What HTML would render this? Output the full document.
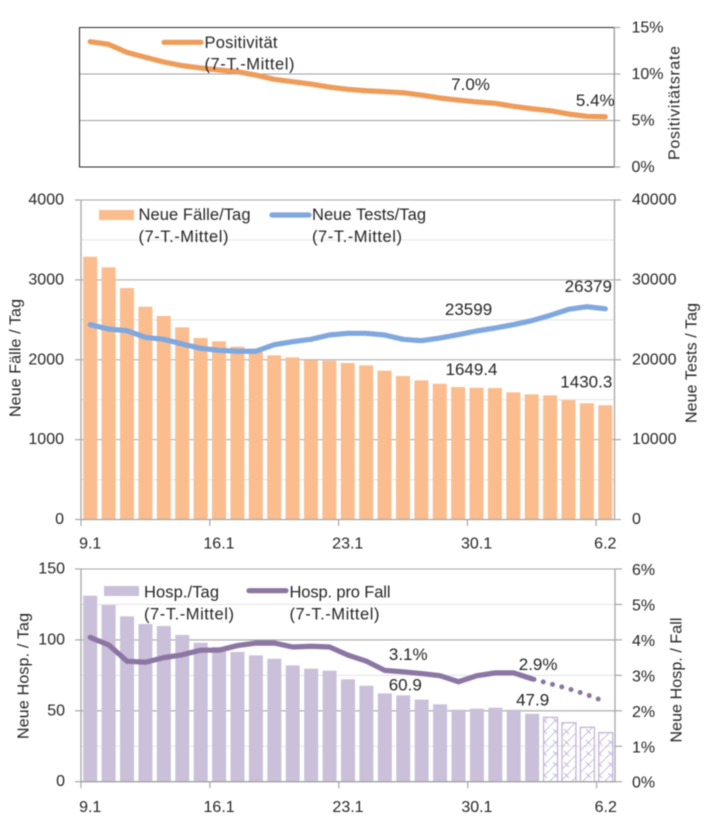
<!DOCTYPE html>
<html lang="de">
<head>
<meta charset="utf-8">
<title>Positivität, Fälle und Hospitalisierungen</title>
<style>
  html, body { margin: 0; padding: 0; background: #fff; }
  svg { display: block; filter: blur(0.45px); }
  text { font-family: "Liberation Sans", sans-serif; font-size: 16px; fill: #262626; }
  .legend { font-size: 16.5px; }
  .value { font-size: 17px; }
</style>
</head>
<body>
<svg id="chart" xmlns="http://www.w3.org/2000/svg" width="709" height="833" viewBox="0 0 709 833">
  <defs>
    <pattern id="hatch" width="11" height="11" patternUnits="userSpaceOnUse">
      <path d="M-1 12 L12 -1 M3 3 L8 8 M-2.5 8.5 L2.5 13.5 M8.5 -2.5 L13.5 2.5" stroke="#c4b6da" stroke-width="0.9" fill="none"/>
    </pattern>
  </defs>

  <g id="panel-1"></g>
  <g id="panel-2"></g>
  <g id="panel-3"></g>

  <g>
    <line x1="164" y1="42.3" x2="201" y2="42.3" stroke="#ee9c58" stroke-width="5.2" stroke-linecap="round"/>
    <text class="legend" x="204.5" y="43" dominant-baseline="central" textLength="73" lengthAdjust="spacing">Positivität</text>
    <text class="legend" x="204.5" y="64.5" dominant-baseline="central" textLength="90" lengthAdjust="spacing">(7-T.-Mittel)</text>
  </g>
  <g>
    <rect x="99" y="210" width="35" height="10" fill="#fbbd8e"/>
    <text class="legend" x="138.5" y="215" dominant-baseline="central" textLength="112" lengthAdjust="spacing">Neue Fälle/Tag</text>
    <text class="legend" x="138.5" y="237" dominant-baseline="central" textLength="90" lengthAdjust="spacing">(7-T.-Mittel)</text>
    <line x1="272" y1="215" x2="309" y2="215" stroke="#7fa8de" stroke-width="5.2" stroke-linecap="round"/>
    <text class="legend" x="312" y="215" dominant-baseline="central" textLength="114" lengthAdjust="spacing">Neue Tests/Tag</text>
    <text class="legend" x="312" y="237" dominant-baseline="central" textLength="90" lengthAdjust="spacing">(7-T.-Mittel)</text>
  </g>
  <g>
    <rect x="104" y="586" width="35" height="10" fill="#cbc0da"/>
    <text class="legend" x="144" y="592.5" dominant-baseline="central" textLength="75" lengthAdjust="spacing">Hosp./Tag</text>
    <text class="legend" x="144" y="614.5" dominant-baseline="central" textLength="90" lengthAdjust="spacing">(7-T.-Mittel)</text>
    <line x1="249" y1="590.7" x2="286" y2="590.7" stroke="#8c76a3" stroke-width="5.2" stroke-linecap="round"/>
    <text class="legend" x="289.5" y="592.5" dominant-baseline="central" textLength="101" lengthAdjust="spacing">Hosp. pro Fall</text>
    <text class="legend" x="289.5" y="614.5" dominant-baseline="central" textLength="90" lengthAdjust="spacing">(7-T.-Mittel)</text>
  </g>

  <text transform="translate(675 103) rotate(-90)" text-anchor="middle" dominant-baseline="central" textLength="114" lengthAdjust="spacing">Positivitätsrate</text>
  <text transform="translate(16 358) rotate(-90)" text-anchor="middle" dominant-baseline="central" textLength="118" lengthAdjust="spacing">Neue Fälle / Tag</text>
  <text transform="translate(692 363) rotate(-90)" text-anchor="middle" dominant-baseline="central" textLength="120" lengthAdjust="spacing">Neue Tests / Tag</text>
  <text transform="translate(24 676) rotate(-90)" text-anchor="middle" dominant-baseline="central" textLength="126" lengthAdjust="spacing">Neue Hosp. / Tag</text>
  <text transform="translate(677 680) rotate(-90)" text-anchor="middle" dominant-baseline="central" textLength="125" lengthAdjust="spacing">Neue Hosp. / Fall</text>
</svg>

<script>
const dayLabels = ["9.1","16.1","23.1","30.1","6.2"];
const dayLabelEvery = 7;
const dayCount = 29;

const positivity = [13.47,13.19,12.33,11.8,11.29,10.9,10.65,10.43,10.25,9.89,9.43,9.17,8.92,8.6,8.35,8.2,8.1,7.99,7.74,7.42,7.2,7.0,6.85,6.53,6.27,6.05,5.7,5.45,5.4];
const cases = [3290,3157,2898,2664,2548,2406,2272,2231,2163,2097,2055,2030,1997,1988,1959,1930,1863,1796,1742,1700,1659,1649.4,1646,1592,1567,1555,1496,1455,1430.3];
const tests = [24390,23850,23640,22810,22560,21970,21430,21180,21060,21060,21890,22260,22560,23100,23310,23310,23100,22560,22390,22720,23140,23599,23970,24390,24890,25560,26310,26640,26379];
const hospitalised = [131.2,124.6,116.6,111.2,109.8,103.5,98,95,91.5,89.1,86.7,82,79.7,78.3,72.2,67.7,62.3,60.9,57.9,54.6,50.8,51.5,52.2,50.8,47.9];
const hospitalisedProjected = [45.4,41.6,38.4,34.6];
const hospRate = [4.07,3.86,3.40,3.37,3.50,3.58,3.71,3.71,3.84,3.91,3.91,3.80,3.82,3.80,3.57,3.40,3.14,3.1,3.05,2.99,2.82,2.99,3.07,3.07,2.9];
const hospRateProjected = [2.9,2.76,2.62,2.45,2.25];

const positivityTicks = [0,5,10,15];
const casesTicks = [0,1000,2000,3000,4000];
const testsTicks = [0,10000,20000,30000,40000];
const hospTicks = [0,50,100,150];
const hospRateTicks = [0,1,2,3,4,5,6];

const NS = "http://www.w3.org/2000/svg";
function make(tag, attrs, parent, txt) {
  const el = document.createElementNS(NS, tag);
  for (const k in attrs) el.setAttribute(k, attrs[k]);
  if (txt !== undefined) el.textContent = txt;
  parent.appendChild(el);
  return el;
}
function linear(d0, d1, r0, r1) { return v => r0 + (v - d0) * (r1 - r0) / (d1 - d0); }
function band(left, right) { const s = (right - left) / dayCount; return i => left + s * (i + 0.5); }
function linePath(values, x, y, start) {
  return values.map((v, i) => (i ? "L" : "M") + x(i + start).toFixed(2) + " " + y(v).toFixed(2)).join(" ");
}

function gridLine(g, x1, x2, y, color) {
  const el = make("line", {x1, x2, y1: y, y2: y, stroke: color, "stroke-width": 1.1}, g);
  
  
}
function tickLine(g, x1, y1, x2, y2) {
  const el = make("line", {x1, y1, x2, y2, stroke: "#a0a0a0", "stroke-width": 1.1}, g);
  
  
}
function tickText(g, x, y, anchor, label) {
  const el = make("text", {x, y: y + 1, "text-anchor": anchor, "dominant-baseline": "central"}, g, label);
  
  
}
function dataLabel(g, x, y, label) {
  const el = make("text", {x, y: y + 0.5, "text-anchor": "middle", "dominant-baseline": "central", class: "value"}, g, label);
  
  
}
function drawBars(g, values, x, y, baseY, fill, stroke) {
  values.forEach((v, i) => {
    const el = make("rect", {x: x(i) - 7, y: y(v), width: 14, height: baseY - y(v), fill}, g);
    if (stroke) { el.setAttribute("stroke", stroke); el.setAttribute("stroke-width", 1.3); }
    
    
  });
}
function drawXAxis(g, x, left, right, baseY, labelY) {
  const step = (right - left) / dayCount;
  dayLabels.forEach((label, k) => {
    const i = k * dayLabelEvery;
    tickLine(g, left + i * step, baseY, left + i * step, baseY + 6.5);
    tickText(g, x(i), labelY, "middle", label);
  });
}

/* Panel 1: positivity */
(function () {
  const g = document.getElementById("panel-1");
  const L = 79.5, R = 614.3, T = 27.5, B = 167;
  const y = linear(0, 15, B, T);
  const x = band(81, 614.5);
  positivityTicks.forEach(t => {
    if (t > 0 && t < 15) gridLine(g, L, R, y(t), "#a0a0a0");
    tickLine(g, R, y(t), R + 6, y(t));
    tickText(g, 631.5, y(t) - 0.5, "start", t + "%");
  });
  const frame = make("path", {d: `M${R} ${T} L${L} ${T} L${L} ${B} L${R} ${B}`, fill: "none", stroke: "#2b2b2b", "stroke-width": 1.1}, g);
  
  
  const rightAxis = make("line", {x1: R, x2: R, y1: T, y2: B, stroke: "#8f8f8f", "stroke-width": 1.2}, g);
  
  
  const line = make("path", {d: linePath(positivity, x, y, 0), fill: "none", stroke: "#ee9c58", "stroke-width": 5.2, "stroke-linecap": "round", "stroke-linejoin": "round"}, g);
  
  
  dataLabel(g, x(21) - 6, y(positivity[21]) - 18, positivity[21].toFixed(1) + "%");
  dataLabel(g, x(28) - 10, y(positivity[28]) - 17, positivity[28].toFixed(1) + "%");
})();

/* Panel 2: cases and tests */
(function () {
  const g = document.getElementById("panel-2");
  const L = 81, R = 614.5, T = 200, B = 519.5;
  const y = linear(0, 4000, B, T);
  const yT = linear(0, 40000, B, T);
  const x = band(L, R);
  casesTicks.forEach((t, k) => {
    if (k < casesTicks.length - 1) gridLine(g, L, R, y(t + 500), "#e6e6e6");
    gridLine(g, L, R, y(t), "#a6a6a6");
    tickLine(g, L - 6, y(t), L, y(t));
    tickText(g, 64, y(t) - 1, "end", String(t));
  });
  testsTicks.forEach(t => {
    tickLine(g, R, yT(t), R + 6.5, yT(t));
    tickText(g, 632, yT(t) - 1, "start", String(t));
  });
  drawBars(g, cases, x, y, B, "#fbbd8e");
  const axes = make("path", {d: `M${L} ${T} L${L} ${B} L${R} ${B} L${R} ${T}`, fill: "none", stroke: "#a6a6a6", "stroke-width": 1.3}, g);
  
  
  drawXAxis(g, x, L, R, B, 543);
  const line = make("path", {d: linePath(tests, x, yT, 0), fill: "none", stroke: "#7fa8de", "stroke-width": 5.2, "stroke-linecap": "round", "stroke-linejoin": "round"}, g);
  
  
  dataLabel(g, x(21) - 8, yT(tests[21]) - 22, String(tests[21]));
  dataLabel(g, x(28) - 17, yT(tests[28]) - 23, String(tests[28]));
  dataLabel(g, x(21) - 5, y(cases[21]) - 19, cases[21].toFixed(1));
  dataLabel(g, x(28) - 19, y(cases[28]) - 24, cases[28].toFixed(1));
})();

/* Panel 3: hospitalisations */
(function () {
  const g = document.getElementById("panel-3");
  const L = 81, R = 615, T = 569, B = 781.7;
  const y = linear(0, 150, B, T);
  const yR = linear(0, 6, B, T);
  const x = band(L, R);
  hospTicks.forEach((t, k) => {
    if (k < hospTicks.length - 1) gridLine(g, L, R, y(t + 25), "#e6e6e6");
    gridLine(g, L, R, y(t), "#a6a6a6");
    tickLine(g, L - 6, y(t), L, y(t));
    tickText(g, 65, y(t) - 1, "end", String(t));
  });
  hospRateTicks.forEach(t => {
    tickLine(g, R, yR(t), R + 7, yR(t));
    tickText(g, 632, yR(t) + 0.5, "start", t + "%");
  });
  drawBars(g, hospitalised, x, y, B, "#cbc0da");
  const xP = i => x(i + hospitalised.length);
  drawBars(g, hospitalisedProjected, xP, y, B, "url(#hatch)", "#c4b6da");
  const axes = make("path", {d: `M${L} ${T} L${L} ${B} L${R} ${B} L${R} ${T}`, fill: "none", stroke: "#a6a6a6", "stroke-width": 1.3}, g);
  
  
  drawXAxis(g, x, L, R, B, 806.5);
  const dotted = make("path", {d: linePath(hospRateProjected, x, yR, hospRate.length - 1), fill: "none", stroke: "#8c76a3", "stroke-width": 5, "stroke-linecap": "round", "stroke-dasharray": "0 9.6", "stroke-dashoffset": "-1.9"}, g);
  
  
  const line = make("path", {d: linePath(hospRate, x, yR, 0), fill: "none", stroke: "#8c76a3", "stroke-width": 5.2, "stroke-linecap": "round", "stroke-linejoin": "round"}, g);
  
  
  dataLabel(g, x(17) + 5, yR(hospRate[17]) - 18, hospRate[17].toFixed(1) + "%");
  dataLabel(g, x(24) + 6, yR(hospRate[24]) - 15, hospRate[24].toFixed(1) + "%");
  dataLabel(g, x(17) + 2, y(hospitalised[17]) - 11, hospitalised[17].toFixed(1));
  dataLabel(g, x(24) + 0.5, y(hospitalised[24]) - 14.5, hospitalised[24].toFixed(1));
})();
</script>
</body>
</html>
